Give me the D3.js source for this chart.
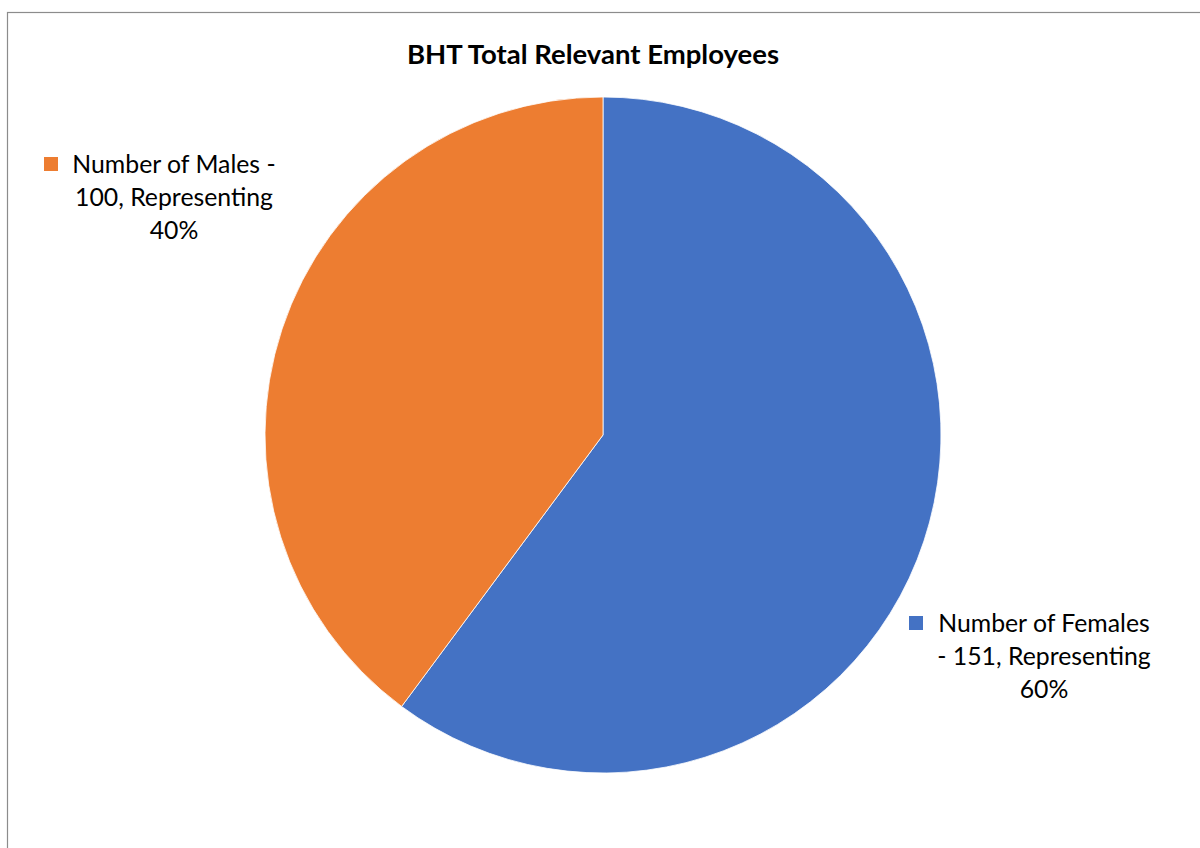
<!DOCTYPE html>
<html>
<head>
<meta charset="utf-8">
<script src="https://cdn.jsdelivr.net/npm/d3@7"></script>
<style>
  html, body { margin: 0; padding: 0; background: #fff; }
  svg { display: block; }
  text { font-family: Lato, "Open Sans", sans-serif; fill: #000; }
</style>
</head>
<body>
<div id="chart"></div>
<script>
// data
const categories = ["Number of Females", "Number of Males"];
const counts = [151, 100];
const colors = ["#4472C4", "#ED7D31"];
const title = "BHT Total Relevant Employees";

const width = 1200, height = 848;
const cx = 603, cy = 435, radius = 338;

const svg = d3.select("#chart")
  .append("svg")
  .attr("width", width)
  .attr("height", height);

// chart frame (runs off the right and bottom edge)
svg.append("rect")
  .attr("x", 7.5)
  .attr("y", 12.5)
  .attr("width", 1300)
  .attr("height", 1000)
  .attr("fill", "#fff")
  .attr("stroke", "#8c8c8c")
  .attr("stroke-width", 1.2);

svg.append("text")
  .attr("x", 593)
  .attr("y", 64)
  .attr("text-anchor", "middle")
  .style("font-size", "27.5px")
  .style("font-weight", "bold")
  .text(title);

const data = categories.map((c, i) => ({ name: c, value: counts[i], color: colors[i] }));
const total = d3.sum(counts);

const pie = d3.pie().sort(null).value(d => d.value);
const arc = d3.arc().innerRadius(0).outerRadius(radius);

svg.append("g")
  .attr("transform", `translate(${cx},${cy})`)
  .selectAll("path")
  .data(pie(data))
  .join("path")
  .attr("d", arc)
  .attr("fill", d => d.data.color)
  .attr("stroke", "#fff")
  .attr("stroke-width", 0.8);

// data labels with legend key
const labelPos = [
  { key: [909, 616], x: 1044, y: 632 },
  { key: [44, 157], x: 174, y: 173 }
];

data.forEach((d, i) => {
  const pct = Math.round(d.value / total * 100) + "%";
  const lines = i === 0
    ? [d.name, `- ${d.value}, Representing`, pct]
    : [`${d.name} -`, `${d.value}, Representing`, pct];
  const p = labelPos[i];
  svg.append("rect")
    .attr("x", p.key[0])
    .attr("y", p.key[1])
    .attr("width", 14)
    .attr("height", 14)
    .attr("fill", d.color);
  const t = svg.append("text")
    .attr("text-anchor", "middle")
    .style("font-size", "24.8px");
  lines.forEach((l, j) => {
    t.append("tspan")
      .attr("x", p.x)
      .attr("y", p.y + j * 33)
      .text(l);
  });
});
</script>
</body>
</html>
